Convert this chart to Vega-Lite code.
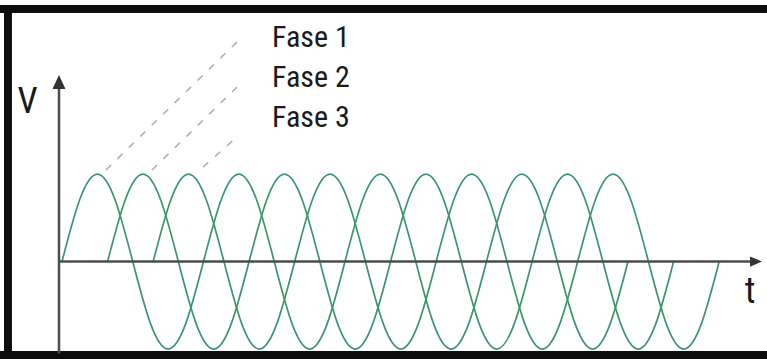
{
  "$schema": "https://vega.github.io/schema/vega-lite/v6.json",
  "width": 767,
  "height": 359,
  "autosize": {"type": "none"},
  "padding": 0,
  "background": "white",
  "config": {"view": {"stroke": null}},
  "layer": [
    {
      "data": {"values": [
        {"phase":"Fase 1","t":0,"v":0},{"phase":"Fase 1","t":45,"v":0.707},{"phase":"Fase 1","t":90,"v":1},{"phase":"Fase 1","t":135,"v":0.707},{"phase":"Fase 1","t":180,"v":0},{"phase":"Fase 1","t":225,"v":-0.707},{"phase":"Fase 1","t":270,"v":-1},{"phase":"Fase 1","t":315,"v":-0.707},
        {"phase":"Fase 1","t":360,"v":0},{"phase":"Fase 1","t":405,"v":0.707},{"phase":"Fase 1","t":450,"v":1},{"phase":"Fase 1","t":495,"v":0.707},{"phase":"Fase 1","t":540,"v":0},{"phase":"Fase 1","t":585,"v":-0.707},{"phase":"Fase 1","t":630,"v":-1},{"phase":"Fase 1","t":675,"v":-0.707},
        {"phase":"Fase 1","t":720,"v":0},{"phase":"Fase 1","t":765,"v":0.707},{"phase":"Fase 1","t":810,"v":1},{"phase":"Fase 1","t":855,"v":0.707},{"phase":"Fase 1","t":900,"v":0},{"phase":"Fase 1","t":945,"v":-0.707},{"phase":"Fase 1","t":990,"v":-1},{"phase":"Fase 1","t":1035,"v":-0.707},
        {"phase":"Fase 1","t":1080,"v":0},{"phase":"Fase 1","t":1125,"v":0.707},{"phase":"Fase 1","t":1170,"v":1},{"phase":"Fase 1","t":1215,"v":0.707},{"phase":"Fase 1","t":1260,"v":0},{"phase":"Fase 1","t":1305,"v":-0.707},{"phase":"Fase 1","t":1350,"v":-1},{"phase":"Fase 1","t":1395,"v":-0.707},
        {"phase":"Fase 1","t":1440,"v":0},
        {"phase":"Fase 2","t":116,"v":0},{"phase":"Fase 2","t":161,"v":0.707},{"phase":"Fase 2","t":206,"v":1},{"phase":"Fase 2","t":251,"v":0.707},{"phase":"Fase 2","t":296,"v":0},{"phase":"Fase 2","t":341,"v":-0.707},{"phase":"Fase 2","t":386,"v":-1},{"phase":"Fase 2","t":431,"v":-0.707},
        {"phase":"Fase 2","t":476,"v":0},{"phase":"Fase 2","t":521,"v":0.707},{"phase":"Fase 2","t":566,"v":1},{"phase":"Fase 2","t":611,"v":0.707},{"phase":"Fase 2","t":656,"v":0},{"phase":"Fase 2","t":701,"v":-0.707},{"phase":"Fase 2","t":746,"v":-1},{"phase":"Fase 2","t":791,"v":-0.707},
        {"phase":"Fase 2","t":836,"v":0},{"phase":"Fase 2","t":881,"v":0.707},{"phase":"Fase 2","t":926,"v":1},{"phase":"Fase 2","t":971,"v":0.707},{"phase":"Fase 2","t":1016,"v":0},{"phase":"Fase 2","t":1061,"v":-0.707},{"phase":"Fase 2","t":1106,"v":-1},{"phase":"Fase 2","t":1151,"v":-0.707},
        {"phase":"Fase 2","t":1196,"v":0},{"phase":"Fase 2","t":1241,"v":0.707},{"phase":"Fase 2","t":1286,"v":1},{"phase":"Fase 2","t":1331,"v":0.707},{"phase":"Fase 2","t":1376,"v":0},{"phase":"Fase 2","t":1421,"v":-0.707},{"phase":"Fase 2","t":1466,"v":-1},{"phase":"Fase 2","t":1511,"v":-0.707},
        {"phase":"Fase 2","t":1556,"v":0},
        {"phase":"Fase 3","t":232,"v":0},{"phase":"Fase 3","t":277,"v":0.707},{"phase":"Fase 3","t":322,"v":1},{"phase":"Fase 3","t":367,"v":0.707},{"phase":"Fase 3","t":412,"v":0},{"phase":"Fase 3","t":457,"v":-0.707},{"phase":"Fase 3","t":502,"v":-1},{"phase":"Fase 3","t":547,"v":-0.707},
        {"phase":"Fase 3","t":592,"v":0},{"phase":"Fase 3","t":637,"v":0.707},{"phase":"Fase 3","t":682,"v":1},{"phase":"Fase 3","t":727,"v":0.707},{"phase":"Fase 3","t":772,"v":0},{"phase":"Fase 3","t":817,"v":-0.707},{"phase":"Fase 3","t":862,"v":-1},{"phase":"Fase 3","t":907,"v":-0.707},
        {"phase":"Fase 3","t":952,"v":0},{"phase":"Fase 3","t":997,"v":0.707},{"phase":"Fase 3","t":1042,"v":1},{"phase":"Fase 3","t":1087,"v":0.707},{"phase":"Fase 3","t":1132,"v":0},{"phase":"Fase 3","t":1177,"v":-0.707},{"phase":"Fase 3","t":1222,"v":-1},{"phase":"Fase 3","t":1267,"v":-0.707},
        {"phase":"Fase 3","t":1312,"v":0},{"phase":"Fase 3","t":1357,"v":0.707},{"phase":"Fase 3","t":1402,"v":1},{"phase":"Fase 3","t":1447,"v":0.707},{"phase":"Fase 3","t":1492,"v":0},{"phase":"Fase 3","t":1537,"v":-0.707},{"phase":"Fase 3","t":1582,"v":-1},{"phase":"Fase 3","t":1627,"v":-0.707},
        {"phase":"Fase 3","t":1672,"v":0}
      ]},
      "mark": {"type": "line", "interpolate": "natural", "color": "#3a976d", "strokeWidth": 1.7},
      "encoding": {
        "x": {"field": "t", "type": "quantitative", "scale": {"domain": [-157.7, 1793.6], "nice": false, "zero": false}, "axis": null},
        "y": {"field": "v", "type": "quantitative", "scale": {"domain": [-1.114, 2.989], "nice": false, "zero": false}, "axis": null},
        "detail": {"field": "phase"}
      }
    },
    {
      "data": {"values": [{}]},
      "layer": [
        {"mark": {"type": "rect", "color": "#0d0d0d"}, "encoding": {"x": {"datum": -157.7, "type": "quantitative", "axis": null}, "x2": {"datum": 1793.6}, "y": {"datum": 2.932, "type": "quantitative", "axis": null}, "y2": {"datum": 2.84}}},
        {"mark": {"type": "rect", "color": "#0d0d0d"}, "encoding": {"x": {"datum": -147.5, "type": "quantitative", "axis": null}, "x2": {"datum": -127.3}, "y": {"datum": 2.932, "type": "quantitative", "axis": null}, "y2": {"datum": -1.114}}},
        {"mark": {"type": "rect", "color": "#0d0d0d"}, "encoding": {"x": {"datum": -157.7, "type": "quantitative", "axis": null}, "x2": {"datum": 1793.6}, "y": {"datum": -1.023, "type": "quantitative", "axis": null}, "y2": {"datum": -1.114}}},
        {"mark": {"type": "rule", "color": "#4d4d4d", "strokeWidth": 2.5}, "encoding": {"x": {"datum": -7.63, "type": "quantitative", "axis": null}, "y": {"datum": -1.05, "type": "quantitative", "axis": null}, "y2": {"datum": 1.983}}},
        {"mark": {"type": "rule", "color": "#4d4d4d", "strokeWidth": 2.5}, "encoding": {"y": {"datum": 0, "type": "quantitative", "axis": null}, "x": {"datum": -7.63, "type": "quantitative", "axis": null}, "x2": {"datum": 1752.9}}},
        {"mark": {"type": "point", "shape": "M0,-1L0.93,1L-0.93,1Z", "filled": true, "color": "#333333", "size": 196, "opacity": 1}, "encoding": {"x": {"datum": -7.63, "type": "quantitative", "axis": null}, "y": {"datum": 2.051, "type": "quantitative", "axis": null}}},
        {"mark": {"type": "point", "shape": "M1,0L-1,-0.85L-1,0.85Z", "filled": true, "color": "#333333", "size": 144, "opacity": 1}, "encoding": {"x": {"datum": 1765.6, "type": "quantitative", "axis": null}, "y": {"datum": 0, "type": "quantitative", "axis": null}}},
        {"mark": {"type": "rule", "color": "#b0b0b0", "strokeWidth": 1.6, "strokeDash": [7, 9]}, "encoding": {"x": {"datum": 111.9, "type": "quantitative", "axis": null}, "y": {"datum": 1.046, "type": "quantitative", "axis": null}, "x2": {"datum": 445.2}, "y2": {"datum": 2.509}}},
        {"mark": {"type": "rule", "color": "#b0b0b0", "strokeWidth": 1.6, "strokeDash": [7, 9]}, "encoding": {"x": {"datum": 229.0, "type": "quantitative", "axis": null}, "y": {"datum": 1.046, "type": "quantitative", "axis": null}, "x2": {"datum": 445.2}, "y2": {"datum": 1.994}}},
        {"mark": {"type": "rule", "color": "#b0b0b0", "strokeWidth": 1.6, "strokeDash": [7, 9]}, "encoding": {"x": {"datum": 358.7, "type": "quantitative", "axis": null}, "y": {"datum": 1.08, "type": "quantitative", "axis": null}, "x2": {"datum": 445.2}, "y2": {"datum": 1.423}}},
        {"mark": {"type": "text", "text": "Fase 1", "align": "left", "baseline": "alphabetic", "font": "Roboto Condensed, Liberation Sans Narrow, DejaVu Sans Condensed, sans-serif", "fontSize": 30, "color": "#1a1a1a"}, "encoding": {"x": {"datum": 534.3, "type": "quantitative", "axis": null}, "y": {"datum": 2.451, "type": "quantitative", "axis": null}}},
        {"mark": {"type": "text", "text": "Fase 2", "align": "left", "baseline": "alphabetic", "font": "Roboto Condensed, Liberation Sans Narrow, DejaVu Sans Condensed, sans-serif", "fontSize": 30, "color": "#1a1a1a"}, "encoding": {"x": {"datum": 534.3, "type": "quantitative", "axis": null}, "y": {"datum": 1.994, "type": "quantitative", "axis": null}}},
        {"mark": {"type": "text", "text": "Fase 3", "align": "left", "baseline": "alphabetic", "font": "Roboto Condensed, Liberation Sans Narrow, DejaVu Sans Condensed, sans-serif", "fontSize": 30, "color": "#1a1a1a"}, "encoding": {"x": {"datum": 534.3, "type": "quantitative", "axis": null}, "y": {"datum": 1.537, "type": "quantitative", "axis": null}}},
        {"mark": {"type": "text", "text": "V", "align": "center", "baseline": "alphabetic", "font": "Roboto Condensed, Liberation Sans Narrow, DejaVu Sans Condensed, sans-serif", "fontSize": 36, "color": "#1a1a1a"}, "encoding": {"x": {"datum": -87.8, "type": "quantitative", "axis": null}, "y": {"datum": 1.697, "type": "quantitative", "axis": null}}},
        {"mark": {"type": "text", "text": "t", "align": "center", "baseline": "alphabetic", "font": "Roboto Condensed, Liberation Sans Narrow, DejaVu Sans Condensed, sans-serif", "fontSize": 36, "color": "#1a1a1a"}, "encoding": {"x": {"datum": 1750.4, "type": "quantitative", "axis": null}, "y": {"datum": -0.474, "type": "quantitative", "axis": null}}}
      ]
    }
  ]
}
